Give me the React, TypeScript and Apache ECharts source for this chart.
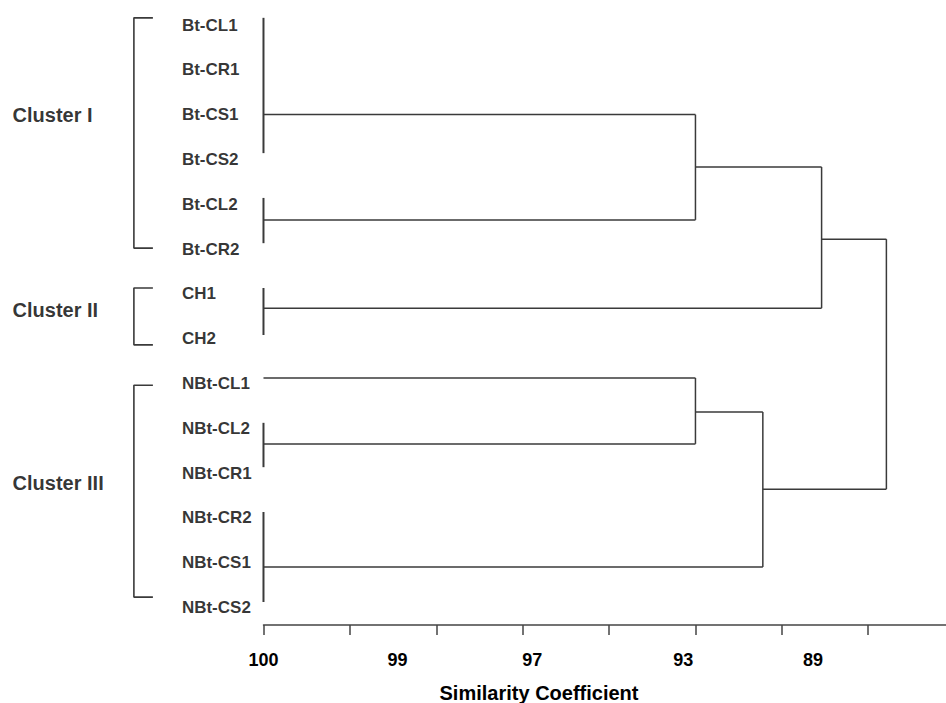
import React, { useEffect, useRef } from "react";
import * as echarts from "echarts";

// ---- data ----
const leafNames = [
  "Bt-CL1", "Bt-CR1", "Bt-CS1", "Bt-CS2", "Bt-CL2", "Bt-CR2",
  "CH1", "CH2",
  "NBt-CL1", "NBt-CL2", "NBt-CR1", "NBt-CR2", "NBt-CS1", "NBt-CS2",
];
const leafRows = leafNames.map((_, i) => i);

const clusterNames = ["Cluster I", "Cluster II", "Cluster III"];
const clusterTop = [-0.16, 5.87, 8.04];
const clusterBottom = [4.98, 7.14, 12.77];
const clusterLabelRow = [2.0, 6.36, 10.22];

// leaf groups joined at the first level (x = 0)
const groupTop = [-0.16, 3.86, 5.87, 7.88, 8.88, 10.87];
const groupBottom = [2.86, 4.87, 6.92, 7.88, 9.87, 12.88];
const groupStem = [2.0, 4.35, 6.32, 7.88, 9.35, 12.1];
const groupParent = [5.0, 5.0, 6.46, 5.0, 5.0, 5.78];

// internal nodes
const nodeLevel = [5.0, 5.0, 6.46, 5.78, 7.21];
const nodeTop = [2.0, 7.88, 3.17, 8.64, 4.78];
const nodeBottom = [4.35, 9.35, 6.32, 12.1, 10.36];
const nodeStem: (number | null)[] = [3.17, 8.64, 4.78, 10.36, null];
const nodeParent: (number | null)[] = [6.46, 5.78, 7.21, 7.21, null];

// x axis
const tickPositions = [0, 1, 2, 3, 4, 5, 6, 7];
const tickLabels = ["100", "99", "97", "93", "89"];
const tickLabelPos = [0, 1.55, 3.11, 4.86, 6.36];
const axisMax = 7.9;

// ---- layout constants ----
const W = 946;
const H = 703;
const AXIS_LEFT_PX = 263.5;
const UNIT_PX = 86.4;
const ROW_PX = 44.8;
const FIRST_ROW_PX = 25;
const AXIS_Y_PX = 625;
const LEAF_LABEL_X = -0.95;
const CLUSTER_LABEL_X = -2.91;
const BRACKET_X = -1.5;
const BRACKET_ARM_X = -1.28;

const FONT = "'Liberation Sans', Arial, Helvetica, sans-serif";
const LINE_COLOR = "#3a3a3a";
const TEXT_COLOR = "#000";

function lineSeries(points: number[][], width = 1.5) {
  return {
    type: "line",
    xAxisIndex: 0,
    yAxisIndex: 0,
    data: points,
    symbol: "none",
    showSymbol: false,
    clip: false,
    silent: true,
    lineStyle: { color: LINE_COLOR, width },
    z: 2,
  };
}

export default function App() {
  const ref = useRef<HTMLDivElement>(null);

  useEffect(() => {
    if (!ref.current) return;
    const chart = echarts.init(ref.current, undefined, { renderer: "svg" });

    const series: any[] = [];

    // first-level groups
    groupTop.forEach((top, i) => {
      if (groupBottom[i] !== top) {
        series.push(lineSeries([[0, top], [0, groupBottom[i]]], 2));
      }
      series.push(lineSeries([[0, groupStem[i]], [groupParent[i], groupStem[i]]]));
    });

    // internal nodes
    nodeLevel.forEach((lvl, i) => {
      series.push(lineSeries([[lvl, nodeTop[i]], [lvl, nodeBottom[i]]]));
      const s = nodeStem[i];
      const p = nodeParent[i];
      if (s !== null && p !== null) {
        series.push(lineSeries([[lvl, s], [p, s]]));
      }
    });

    // cluster brackets
    clusterTop.forEach((top, i) => {
      series.push(
        lineSeries(
          [
            [BRACKET_ARM_X, top],
            [BRACKET_X, top],
            [BRACKET_X, clusterBottom[i]],
            [BRACKET_ARM_X, clusterBottom[i]],
          ],
          1.6
        )
      );
    });

    // leaf labels
    series.push({
      type: "scatter",
      xAxisIndex: 0,
      yAxisIndex: 0,
      data: leafRows.map((r) => [LEAF_LABEL_X, r]),
      symbolSize: 1,
      itemStyle: { color: "rgba(0,0,0,0)" },
      clip: false,
      silent: true,
      label: {
        show: true,
        position: "right",
        distance: 0,
        formatter: (p: any) => leafNames[p.dataIndex],
        fontFamily: FONT,
        fontWeight: "bold",
        fontSize: 17,
        color: TEXT_COLOR,
      },
    });

    // cluster labels
    series.push({
      type: "scatter",
      xAxisIndex: 0,
      yAxisIndex: 0,
      data: clusterLabelRow.map((r) => [CLUSTER_LABEL_X, r]),
      symbolSize: 1,
      itemStyle: { color: "rgba(0,0,0,0)" },
      clip: false,
      silent: true,
      label: {
        show: true,
        position: "right",
        distance: 0,
        formatter: (p: any) => clusterNames[p.dataIndex],
        fontFamily: FONT,
        fontWeight: "bold",
        fontSize: 20,
        color: TEXT_COLOR,
      },
    });

    const yMin = -FIRST_ROW_PX / ROW_PX;
    const yMax = (AXIS_Y_PX - FIRST_ROW_PX) / ROW_PX;

    const option: any = {
      animation: false,
      backgroundColor: "#ffffff",
      grid: [
        { left: 0, right: 0, top: 0, bottom: H - AXIS_Y_PX, containLabel: false },
        { left: AXIS_LEFT_PX, right: 0, top: 0, bottom: H - AXIS_Y_PX, containLabel: false },
      ],
      xAxis: [
        {
          gridIndex: 0,
          type: "value",
          min: -AXIS_LEFT_PX / UNIT_PX,
          max: axisMax,
          show: false,
        },
        {
          gridIndex: 1,
          type: "value",
          position: "bottom",
          min: 0,
          max: axisMax,
          interval: 1,
          axisLine: { show: true, onZero: false, lineStyle: { color: "#444", width: 1.5 } },
          axisTick: {
            show: true,
            length: 10,
            customValues: tickPositions,
            lineStyle: { color: "#444", width: 1.5 },
          },
          splitLine: { show: false },
          axisLabel: {
            show: true,
            customValues: tickLabelPos,
            formatter: (v: number) => {
              const idx = tickLabelPos.findIndex((t) => Math.abs(t - v) < 1e-6);
              return idx >= 0 ? tickLabels[idx] : "";
            },
            margin: 26,
            fontFamily: FONT,
            fontWeight: "bold",
            fontSize: 18,
            color: TEXT_COLOR,
          },
        },
      ],
      yAxis: [
        { gridIndex: 0, type: "value", inverse: true, min: yMin, max: yMax, show: false },
        { gridIndex: 1, type: "value", inverse: true, min: yMin, max: yMax, show: false },
      ],
      graphic: [
        {
          type: "text",
          x: 539,
          y: 693,
          style: {
            text: "Similarity Coefficient",
            textAlign: "center",
            textVerticalAlign: "middle",
            fontFamily: FONT,
            fontWeight: "bold",
            fontSize: 20,
            fill: TEXT_COLOR,
          },
        },
      ],
      series,
    };

    chart.setOption(option);
    return () => chart.dispose();
  }, []);

  return (
    <div
      ref={ref}
      style={{ position: "fixed", left: 0, top: 0, width: W, height: H }}
    />
  );
}
